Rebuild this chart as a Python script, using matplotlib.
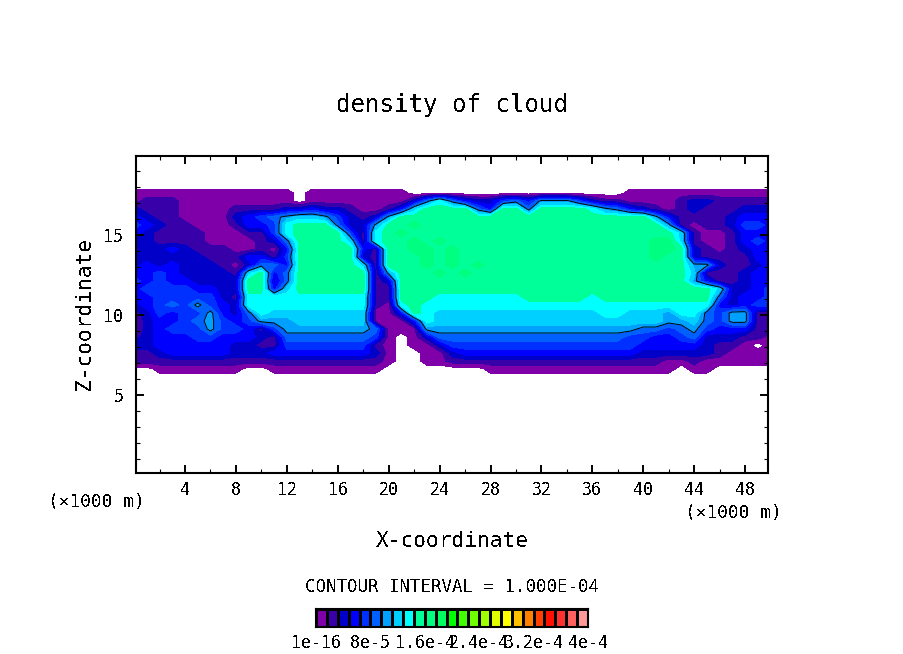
import numpy as np
import matplotlib
matplotlib.use('Agg')
import matplotlib.pyplot as plt
from matplotlib.colors import ListedColormap, BoundaryNorm

# cloud density class per grid point: 0 = empty, a = 10, b = 11
# columns are x = 0..50 km, rows go from z = 18.125 km down in 0.5 km steps
cloud_rows = [
    "0000000000 0000000000 0000000000 0000000000 0000000000 0",
    "1111111111 1110111111 1100000000 0000000001 1111111111 1",
    "1222111111 1110111111 1136964335 6477753221 1112332222 2",
    "3222111122 2233433211 248aaaa64a a6aaaa9764 3212322233 3",
    "4322111134 5678875323 7aaaaaaaaa aaaaaaaaaa a742222344 4",
    "5432211124 459aaa6337 aabaaaaaaa aaaaaaaaaa aa72122355 4",
    "4322221112 259aaaa529 abaaaaaaaa aaaaaaaaaa aaa8211244 4",
    "3322221111 236aaaa829 aababaaaaa aaaaaaaaaa abb8211245 4",
    "2334322211 214aaaaa42 aabbabaaaa aaaaaaaaaa abba321234 4",
    "3333332224 425aaaaa32 aaababaaaa aaaaaaaaaa abaa322224 4",
    "3434333213 664aaaaa82 aaabababaa aaaaaaaaaa aaaa773223 4",
    "4454333328 a46aaaaaa2 7aaababaaa aaaaaaaaaa aaaa822234 4",
    "545443333a a36aaaaaa2 3aaaaaaaaa aaaaaaaaaa aaaa742234 4",
    "455554433a a48aaaaaa2 2aaaaaaaaa aaaaaaaaaa aaaaaa8334 5",
    "4455555329 9999999992 2aaa999999 9aaaaa9aaa aaaaaa6344 5",
    "3456575439 9999999992 19a9999999 9999999999 9999994345 5",
    "2354557436 9888888881 14a9888888 8888888998 8879965772 2",
    "1344567545 7778888881 1149888888 8888888888 8877865772 2",
    "1345557554 2577777776 1117777777 7777777777 6656754442 2",
    "2344455444 3266666665 1013666666 6666666665 5445633322 1",
    "3344444433 2255555552 1011355555 5555555555 4444432210 1",
    "2234444433 3444444443 1001134444 4444444444 3333332111 1",
    "2222222222 2222222222 1001122222 2222222222 2211211111 1",
    "0011111110 0111111111 0000000011 1111111111 1110110000 0",
    "0000000000 0000000000 0000000000 0000000000 0000000000 0",
]

# colour bar
bar_colors = ['#7f00a8', '#3800a8', '#0000c8', '#0000ff', '#0030ff',
              '#0060ff', '#00a0ff', '#00d0ff', '#00ffff', '#00ff99',
              '#00ff80', '#00ff60', '#00ff00', '#40ff00', '#70ff00',
              '#a0ff00', '#e0ff00', '#ffff00', '#ffc000', '#ff8000',
              '#ff4000', '#ff1000', '#ff3030', '#ff6060', '#ff9999']
bar_labels = ['1e-16', '8e-5', '1.6e-4', '2.4e-4', '3.2e-4', '4e-4']

x_km = np.arange(0, 51)
z_km = 18.125 - 0.5 * np.arange(len(cloud_rows))
x_ticks = [4, 8, 12, 16, 20, 24, 28, 32, 36, 40, 44, 48]
z_ticks = [5, 10, 15]

W, H = 904, 654
plt.rcParams['font.family'] = 'DejaVu Sans Mono'
plt.rcParams['text.antialiased'] = False

cloud = np.array([[int(c, 16) for c in row.replace(' ', '')] for row in cloud_rows], dtype=float)


def put_axes(fig, left, top, right, bottom):
    return fig.add_axes([left / W, 1 - bottom / H, (right - left) / W, (bottom - top) / H])


def put_text(fig, px, py, s, size, **kw):
    fig.text(px / W, 1 - py / H, s, fontsize=size, ha=kw.pop('ha', 'center'), va='center', **kw)


fig = plt.figure(figsize=(W / 100, H / 100), dpi=100)
ax = put_axes(fig, 136, 156, 768, 473)

bounds = np.arange(len(bar_colors) + 1) + 0.5
cmap = ListedColormap(bar_colors)
norm = BoundaryNorm(bounds, cmap.N)
ax.contourf(x_km, z_km, cloud, levels=bounds, cmap=cmap, norm=norm, antialiased=False)
# the 1.000E-04 contour
ax.contour(x_km, z_km, cloud, levels=[6.5], colors='black', linewidths=0.7)

ax.set_xlim(0.15, 49.8)
ax.set_ylim(0.125, 19.94)
ax.set_xticks(x_ticks)
ax.set_yticks(z_ticks)
ax.set_xticks(np.arange(2, 50, 2), minor=True)
ax.set_yticks(np.arange(1, 20, 1), minor=True)
ax.tick_params(which='major', direction='in', top=True, right=True, length=6, width=1.4, labelsize=12)
ax.tick_params(which='minor', direction='in', top=True, right=True, length=3, width=0.8)
ax.tick_params(axis='x', which='major', pad=6)
ax.tick_params(axis='y', which='major', pad=9)
for s in ax.spines.values():
    s.set_linewidth(1.5)

put_text(fig, 452, 105, 'density of cloud', 17.4)
put_text(fig, 84, 314, 'Z-coordinate', 15.2, rotation=90)
put_text(fig, 452, 541, 'X-coordinate', 15.2)
put_text(fig, 96, 502, '(×1000 m)', 12.9)
put_text(fig, 733, 513, '(×1000 m)', 12.9)
put_text(fig, 452, 587, 'CONTOUR INTERVAL = 1.000E-04', 12.6)

# legend strip
cax = put_axes(fig, 316, 609, 588, 627)
cax.pcolormesh(np.arange(len(bar_colors) + 1), [0, 1], np.arange(len(bar_colors))[None, :],
               cmap=cmap, edgecolors='black', linewidth=1.0)
cax.set_yticks([])
cax.set_xticks(np.arange(0, len(bar_colors) + 1, 5))
cax.set_xticklabels(bar_labels, fontsize=12)
cax.tick_params(axis='x', length=0, pad=5)
for s in cax.spines.values():
    s.set_linewidth(1.5)

fig.savefig('out.png', dpi=100)
